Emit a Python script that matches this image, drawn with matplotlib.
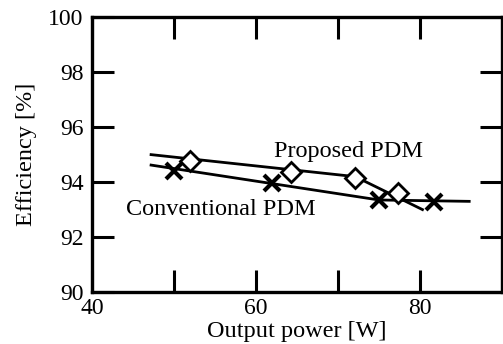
import matplotlib.pyplot as plt

plt.rcParams['font.family'] = ['Liberation Serif', 'DejaVu Serif']

# Measured points
prop_power = [51.9, 64.3, 72.1, 77.3]
prop_eff = [94.76, 94.36, 94.16, 93.59]
conv_power = [50.0, 62.0, 75.0, 81.7]
conv_eff = [94.42, 93.95, 93.35, 93.28]

# Trend lines
prop_line_x = [47.2, 72.1, 80.3]
prop_line_y = [95.0, 94.2, 93.0]
conv_line_x = [47.2, 75.0, 86.0]
conv_line_y = [94.62, 93.35, 93.3]

fig = plt.figure(figsize=(5.03, 3.44), dpi=100)
ax = fig.add_axes([0.183, 0.151, 0.815, 0.799])

ax.plot(prop_line_x, prop_line_y, color='black', lw=2)
ax.plot(conv_line_x, conv_line_y, color='black', lw=2)
ax.plot(prop_power, prop_eff, linestyle='none', marker='D', ms=10,
        mfc='white', mec='black', mew=2)
ax.plot(conv_power, conv_eff, linestyle='none', marker='x', ms=11,
        color='black', mew=3)

ax.text(62.2, 94.91, 'Proposed PDM', fontsize=17.5, va='baseline')
ax.text(44.2, 92.8, 'Conventional PDM', fontsize=17.5, va='baseline')

ax.set_xlim(40, 90)
ax.set_ylim(90, 100)
ax.set_xticks([40, 50, 60, 70, 80, 90])
ax.set_xticklabels(['40', '', '60', '', '80', ''])
ax.set_yticks([90, 92, 94, 96, 98, 100])
ax.tick_params(direction='in', top=True, right=True, length=16, width=2.2,
               labelsize=17)
ax.tick_params(axis='x', pad=4)
ax.tick_params(axis='y', pad=6)
for s in ax.spines.values():
    s.set_linewidth(2.4)

ax.set_xlabel('Output power [W]', fontsize=17.5, labelpad=2)
ax.set_ylabel('Efficiency [%]', fontsize=17.5, labelpad=8)

fig.savefig('out.png', dpi=100)
